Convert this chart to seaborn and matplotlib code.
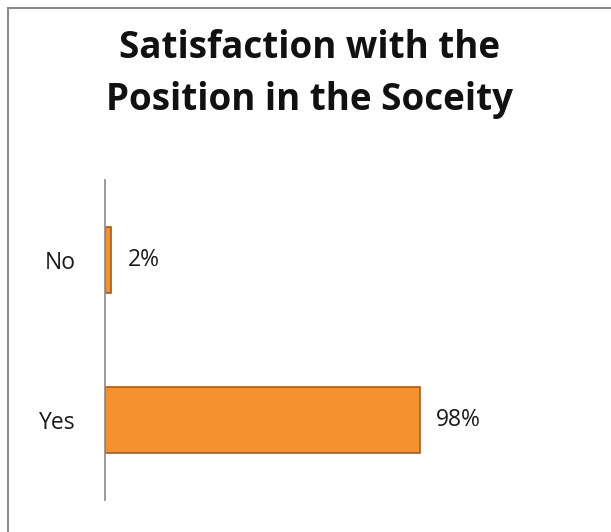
import matplotlib
matplotlib.use("Agg")
import matplotlib.pyplot as plt
from matplotlib.patches import Rectangle
import seaborn as sns
import pandas as pd

# Survey answers and their shares
answers = ["No", "Yes"]
shares = [0.02, 0.98]
value_labels = ["2%", "98%"]

sns.set_theme(style="white")
plt.rcParams["font.family"] = ["Open Sans", "DejaVu Sans"]

W, H = 611, 532
fig = plt.figure(figsize=(W / 100, H / 100), dpi=100)

# Outer frame of the chart area
fig.patches.append(Rectangle((8 / W, -0.01), 1.0, 1 - 8 / H + 0.01,
                             transform=fig.transFigure, fill=False,
                             edgecolor="#8c8c8c", linewidth=1.5))

# Plot area: x from 105 to 426 px, y from 180 to 500 px
ax = fig.add_axes([105 / W, 1 - 500 / H, 321 / W, 320 / H])

df = pd.DataFrame({"answer": answers, "share": shares})
sns.barplot(data=df, x="share", y="answer", order=answers, orient="h",
            color="#F5912E", width=0.41, edgecolor="#A65B1E", linewidth=1.2,
            saturation=1, ax=ax)

ax.set_xlim(0, 1.0)
ax.set_ylim(1.5, -0.5)
ax.set_xlabel("")
ax.set_ylabel("")
ax.set_xticks([])
for side in ["top", "right", "bottom"]:
    ax.spines[side].set_visible(False)
ax.spines["left"].set_color("#8a8a8a")
ax.spines["left"].set_linewidth(1.2)
ax.tick_params(axis="y", length=0, pad=21, labelsize=16.5, labelcolor="#1a1a1a")

for i, (v, lab) in enumerate(zip(shares, value_labels)):
    ax.text(v + 0.05, i, lab, va="center", ha="left", fontsize=16.5,
            color="#1a1a1a", clip_on=False)

fig.text(310 / W, 1 - 74 / H, "Satisfaction with the\nPosition in the Soceity",
         ha="center", va="center", fontsize=26.5, fontweight="bold",
         color="#111111", linespacing=1.5)

fig.savefig("out.png", dpi=100, facecolor="white")
